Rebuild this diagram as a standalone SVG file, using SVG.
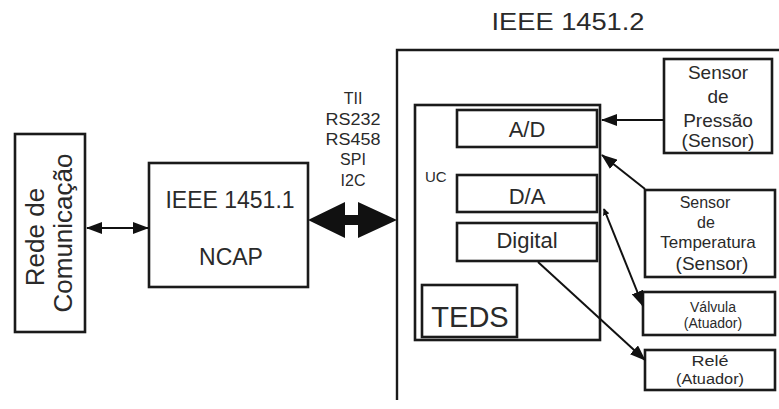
<svg xmlns="http://www.w3.org/2000/svg" width="779" height="409" viewBox="0 0 779 409">
  <style>
    .box { fill: #fff; stroke: #1a1a1a; stroke-width: 2.6; }
    .edge { fill: none; stroke: #1a1a1a; stroke-width: 2.4; }
    .wire { fill: none; stroke: #111; stroke-width: 2; }
    .t { font-family: "Liberation Sans", Arial, sans-serif; fill: #2a2a2a; text-anchor: middle; }
  </style>
  <defs>
    <marker id="head" viewBox="0 0 16 12" refX="15" refY="6" markerWidth="16" markerHeight="12" markerUnits="userSpaceOnUse" orient="auto-start-reverse">
      <path d="M0,0 L16,6 L0,12 Z" fill="#111"/>
    </marker>
    <marker id="tiny" viewBox="0 0 8 8" refX="7" refY="4" markerWidth="7" markerHeight="7" markerUnits="userSpaceOnUse" orient="auto-start-reverse">
      <path d="M0,0 L8,4 L0,8 Z" fill="#111"/>
    </marker>
  </defs>

  <rect width="779" height="409" fill="#fff"/>

  <!-- communication network -->
  <g id="rede">
    <rect class="box" x="15" y="134" width="70" height="198"/>
    <text class="t" font-size="26" transform="translate(44,237) rotate(-90)">Rede de</text>
    <text class="t" font-size="26" transform="translate(72,233) rotate(-90)">Comunicação</text>
  </g>

  <!-- NCAP -->
  <g id="ncap">
    <rect class="box" x="149" y="163" width="159" height="124"/>
    <text class="t" font-size="23" x="230" y="208">IEEE 1451.1</text>
    <text class="t" font-size="23" x="231" y="265">NCAP</text>
  </g>

  <!-- interface list -->
  <g id="interfaces">
    <text class="t" font-size="16" x="353" y="104">TII</text>
    <text class="t" font-size="16" x="353" y="125" textLength="55" lengthAdjust="spacingAndGlyphs">RS232</text>
    <text class="t" font-size="16" x="353" y="145" textLength="55" lengthAdjust="spacingAndGlyphs">RS458</text>
    <text class="t" font-size="16" x="353" y="165">SPI</text>
    <text class="t" font-size="16" x="353" y="186">I2C</text>
  </g>

  <!-- STIM (IEEE 1451.2) -->
  <g id="stim">
    <path class="edge" d="M397,400 V50 H779"/>
    <text class="t" font-size="23" x="568" y="30" textLength="153" lengthAdjust="spacingAndGlyphs">IEEE 1451.2</text>
  </g>

  <g id="uc">
    <rect class="box" x="415" y="105" width="185" height="235"/>
    <text class="t" font-size="15" x="425" y="182" style="text-anchor:start">UC</text>
  </g>

  <g id="ad">
    <rect class="box" x="457" y="110" width="140" height="37"/>
    <text class="t" font-size="22" x="527" y="137">A/D</text>
  </g>

  <g id="da">
    <rect class="box" x="457" y="175" width="140" height="37"/>
    <text class="t" font-size="22" x="527" y="204">D/A</text>
  </g>

  <g id="digital">
    <rect class="box" x="457" y="223" width="140" height="38"/>
    <text class="t" font-size="22" x="527" y="248">Digital</text>
  </g>

  <g id="teds">
    <rect class="box" x="422" y="285" width="95" height="52"/>
    <text class="t" font-size="29" x="470" y="327">TEDS</text>
  </g>

  <g id="sensor-pressao">
    <rect class="box" x="664" y="59" width="108" height="94"/>
    <text class="t" font-size="19" x="718" y="79">Sensor</text>
    <text class="t" font-size="19" x="718" y="103">de</text>
    <text class="t" font-size="19" x="718" y="127">Pressão</text>
    <text class="t" font-size="19" x="718" y="147">(Sensor)</text>
  </g>

  <g id="sensor-temperatura">
    <rect class="box" x="645" y="190" width="130" height="87"/>
    <text class="t" font-size="16" x="705" y="208">Sensor</text>
    <text class="t" font-size="16" x="706" y="228">de</text>
    <text class="t" font-size="17" x="708" y="248">Temperatura</text>
    <text class="t" font-size="19" x="712" y="270">(Sensor)</text>
  </g>

  <g id="valvula">
    <rect class="box" x="643" y="292" width="132" height="43"/>
    <text class="t" font-size="14" x="713" y="312" fill="#444">Válvula</text>
    <text class="t" font-size="14" x="713" y="328" fill="#444">(Atuador)</text>
  </g>

  <g id="rele">
    <rect class="box" x="645" y="350" width="130" height="40"/>
    <text class="t" font-size="14" x="710" y="366" textLength="37" lengthAdjust="spacingAndGlyphs">Relé</text>
    <text class="t" font-size="14" x="710" y="384" textLength="68" lengthAdjust="spacingAndGlyphs">(Atuador)</text>
  </g>

  <!-- connectors -->
  <g id="connectors">
    <line class="wire" x1="87" y1="228" x2="148" y2="228" marker-start="url(#head)" marker-end="url(#head)"/>
    <!-- wide bus arrow NCAP <-> STIM -->
    <path d="M308,220 L345,202 L345,215 L358,215 L358,202 L397,220 L358,238 L358,225 L345,225 L345,238 Z" fill="#111"/>
    <line class="wire" x1="664" y1="120" x2="602" y2="120" marker-end="url(#head)"/>
    <line class="wire" x1="645" y1="189" x2="602" y2="155" marker-end="url(#head)"/>
    <line class="wire" x1="604" y1="209" x2="643" y2="306" marker-start="url(#tiny)" marker-end="url(#head)"/>
    <line class="wire" x1="538" y1="262" x2="645" y2="360" marker-end="url(#head)"/>
  </g>
</svg>
